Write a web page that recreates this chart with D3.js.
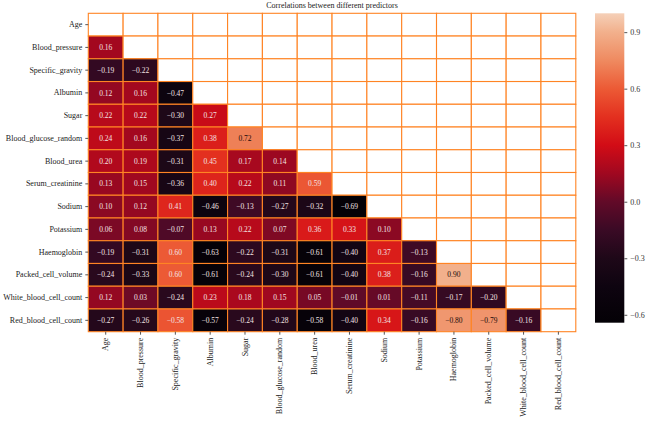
<!DOCTYPE html>
<html>
<head>
<meta charset="utf-8">
<script src="https://cdn.jsdelivr.net/npm/d3@7"></script>
<style>
    body { margin: 0; background: #fff; }
    text { font-family: "Liberation Serif", "DejaVu Serif", serif; }
</style>
</head>
<body>
<div id="chart"></div>
<script>
// Variable names (rows and columns)
const predictors = ['Age', 'Blood_pressure', 'Specific_gravity', 'Albumin', 'Sugar',
    'Blood_glucose_random', 'Blood_urea', 'Serum_creatinine', 'Sodium', 'Potassium',
    'Haemoglobin', 'Packed_cell_volume', 'White_blood_cell_count', 'Red_blood_cell_count'];

// Lower triangle, row by row (values used for colour)
const corrRows = [
    [],
    [0.16],
    [-0.19, -0.22],
    [0.12, 0.16, -0.47],
    [0.22, 0.22, -0.30, 0.27],
    [0.24, 0.16, -0.37, 0.38, 0.72],
    [0.20, 0.19, -0.31, 0.45, 0.17, 0.14],
    [0.13, 0.15, -0.36, 0.40, 0.22, 0.11, 0.59],
    [0.10, 0.12, 0.41, -0.46, -0.13, -0.27, -0.32, -0.69],
    [0.06, 0.08, -0.07, 0.13, 0.22, 0.07, 0.36, 0.33, 0.10],
    [-0.19, -0.31, 0.60, -0.63, -0.22, -0.31, -0.61, -0.40, 0.37, -0.13],
    [-0.24, -0.33, 0.60, -0.61, -0.24, -0.30, -0.61, -0.40, 0.38, -0.16, 0.90],
    [0.12, 0.03, -0.24, 0.23, 0.18, 0.15, 0.05, -0.01, 0.01, -0.11, -0.17, -0.20],
    [-0.27, -0.26, 0.58, -0.57, -0.24, -0.28, -0.58, -0.40, 0.34, -0.16, 0.80, 0.79, -0.16]
];

// Cells whose printed annotation carries a minus sign the colour does not
const printedNegative = [[13, 2], [13, 10], [13, 11]];

// Colour bar
const colorTicks = [-0.6, -0.3, 0.0, 0.3, 0.6, 0.9];
const colorDomain = [-0.642, 1.0];
const colorStops = [-0.642, -0.45, -0.3, -0.15, 0.0, 0.15, 0.3, 0.45, 0.6, 0.75, 0.9, 1.0];
const colorRange = ['#040106', '#0e0410', '#1e0818', '#3a0a25', '#620a28', '#a00820',
    '#d20c16', '#e3301f', '#ec5a35', '#ef8a60', '#f2b08c', '#f5d0b8'];

const title = 'Correlations between different predictors';

const W = 647, H = 422;
const margin = { top: 13.3, left: 88.3 };
const gridW = 487.5, gridH = 318.4;

const svg = d3.select('#chart').append('svg')
    .attr('width', W)
    .attr('height', H);

svg.append('rect').attr('width', W).attr('height', H).attr('fill', '#fff');

const xScale = d3.scaleBand().domain(predictors).range([margin.left, margin.left + gridW]);
const yScale = d3.scaleBand().domain(predictors).range([margin.top, margin.top + gridH]);

const color = d3.scaleLinear()
    .domain(colorStops)
    .range(colorRange)
    .clamp(true);

const fmt = v => (v < 0 ? '\u2212' : '') + Math.abs(v).toFixed(2);
const isFlipped = (i, j) => printedNegative.some(p => p[0] === i && p[1] === j);

// Build the full grid (upper part is masked / white)
const cells = [];
predictors.forEach((rowName, i) => {
    predictors.forEach((colName, j) => {
        const v = j < i ? corrRows[i][j] : null;
        cells.push({ i, j, row: rowName, col: colName, value: v });
    });
});

const g = svg.append('g');

g.selectAll('.cell')
    .data(cells)
    .enter().append('rect')
    .attr('class', 'cell')
    .attr('x', d => xScale(d.col))
    .attr('y', d => yScale(d.row))
    .attr('width', xScale.bandwidth())
    .attr('height', yScale.bandwidth())
    .attr('fill', d => d.value === null ? '#fff' : color(d.value))
    .attr('stroke', '#ff8424')
    .attr('stroke-width', 1.1);

// Annotations
g.selectAll('.annot')
    .data(cells.filter(d => d.value !== null))
    .enter().append('text')
    .attr('class', 'annot')
    .attr('x', d => xScale(d.col) + xScale.bandwidth() / 2)
    .attr('y', d => yScale(d.row) + yScale.bandwidth() / 2)
    .attr('dy', '0.35em')
    .attr('text-anchor', 'middle')
    .style('font-size', '7.5px')
    .attr('fill', d => d3.lab(color(d.value)).l > 62 ? '#1a0a0a' : '#f3e2e2')
    .text(d => isFlipped(d.i, d.j) ? fmt(-d.value) : fmt(d.value));

// Y axis
const yAxis = svg.append('g')
    .attr('transform', `translate(${margin.left},0)`)
    .call(d3.axisLeft(yScale).tickSize(3).tickPadding(3));
yAxis.select('.domain').remove();
yAxis.selectAll('line').attr('stroke', '#555');
yAxis.selectAll('text')
    .style('font-family', '"Liberation Serif", serif')
    .style('font-size', '8px')
    .attr('fill', '#222');

// X axis
const xAxis = svg.append('g')
    .attr('transform', `translate(0,${margin.top + gridH})`)
    .call(d3.axisBottom(xScale).tickSize(3).tickPadding(3));
xAxis.select('.domain').remove();
xAxis.selectAll('line').attr('stroke', '#555');
xAxis.selectAll('text')
    .style('font-family', '"Liberation Serif", serif')
    .style('font-size', '8px')
    .attr('fill', '#222')
    .attr('text-anchor', 'end')
    .attr('transform', 'rotate(-90)')
    .attr('x', -6)
    .attr('y', 0)
    .attr('dy', '0.32em');

// Title
svg.append('text')
    .attr('x', margin.left + gridW / 2)
    .attr('y', 8)
    .attr('text-anchor', 'middle')
    .style('font-size', '8px')
    .attr('fill', '#222')
    .text(title);

// Colour bar
const cbX = 595, cbW = 29.3;
const cbScale = d3.scaleLinear().domain(colorDomain).range([322.7, 13.3]);

const defs = svg.append('defs');
const grad = defs.append('linearGradient')
    .attr('id', 'cbgrad')
    .attr('x1', 0).attr('y1', 1).attr('x2', 0).attr('y2', 0);
colorStops.forEach((s, k) => {
    grad.append('stop')
        .attr('offset', (s - colorDomain[0]) / (colorDomain[1] - colorDomain[0]))
        .attr('stop-color', colorRange[k]);
});

svg.append('rect')
    .attr('x', cbX)
    .attr('y', cbScale(colorDomain[1]))
    .attr('width', cbW)
    .attr('height', cbScale(colorDomain[0]) - cbScale(colorDomain[1]))
    .attr('fill', 'url(#cbgrad)');

const cbAxis = svg.append('g')
    .attr('transform', `translate(${cbX + cbW},0)`)
    .call(d3.axisRight(cbScale).tickValues(colorTicks).tickSize(3).tickPadding(3)
        .tickFormat(v => (v < 0 ? '\u2212' : '') + Math.abs(v).toFixed(1)));
cbAxis.select('.domain').remove();
cbAxis.selectAll('line').attr('stroke', '#555');
cbAxis.selectAll('text')
    .style('font-family', '"Liberation Serif", serif')
    .style('font-size', '8px')
    .attr('fill', '#333');
</script>
</body>
</html>
